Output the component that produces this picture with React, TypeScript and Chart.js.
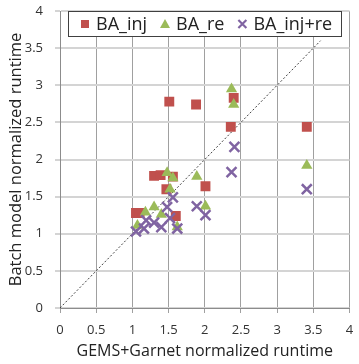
import React, { useEffect, useRef } from "react";
import { Chart, registerables } from "chart.js";

Chart.register(...registerables);

// ---- data ----
const legendLabels = ["BA_inj", "BA_re", "BA_inj+re"];
const xTitle = "GEMS+Garnet normalized runtime";
const yTitle = "Batch model normalized runtime";

const injX = [1.51, 1.88, 2.40, 2.36, 3.41, 2.01, 1.30, 1.39, 1.56, 1.47, 1.05, 1.10, 1.60];
const injY = [2.78, 2.74, 2.83, 2.44, 2.44, 1.64, 1.78, 1.79, 1.77, 1.60, 1.28, 1.28, 1.24];

const reX = [2.37, 2.40, 3.41, 1.89, 1.48, 1.56, 1.52, 2.01, 1.30, 1.18, 1.40, 1.07, 1.62];
const reY = [2.95, 2.74, 1.92, 1.77, 1.82, 1.75, 1.60, 1.37, 1.36, 1.29, 1.26, 1.11, 1.09];

const bothX = [2.41, 2.37, 3.41, 1.89, 2.01, 1.56, 1.48, 1.52, 1.62, 1.40, 1.30, 1.19, 1.16, 1.05];
const bothY = [2.17, 1.83, 1.60, 1.37, 1.25, 1.49, 1.36, 1.21, 1.07, 1.09, 1.15, 1.18, 1.07, 1.03];

const axisMin = 0;
const axisMax = 4;
const tickStep = 0.5;
const diagonal = [0, 3.6];

const RED = "#C0504D";
const GREEN = "#9BBB59";
const PURPLE = "#8064A2";
const FONT = "'Open Sans', 'DejaVu Sans', sans-serif";

const pts = (xs: number[], ys: number[]) => xs.map((x, i) => ({ x, y: ys[i] }));
const fmt = (v: any) => String(Number(v));

const legendPlugin = {
  id: "boxLegend",
  afterDraw(chart: any) {
    const ctx = chart.ctx as CanvasRenderingContext2D;
    const left = 68, top = 11, right = 342, bottom = 37;
    ctx.save();
    ctx.fillStyle = "#ffffff";
    ctx.fillRect(left, top, right - left, bottom - top);
    ctx.strokeStyle = "#404040";
    ctx.lineWidth = 1;
    ctx.strokeRect(left + 0.5, top + 0.5, right - left - 1, bottom - top - 1);
    ctx.font = `18px ${FONT}`;
    ctx.textBaseline = "middle";
    const cy = 24;
    let x = 85;
    legendLabels.forEach((label, i) => {
      if (i === 0) {
        ctx.fillStyle = RED;
        ctx.fillRect(x - 4, cy - 4, 8, 8);
      } else if (i === 1) {
        ctx.fillStyle = GREEN;
        ctx.beginPath();
        ctx.moveTo(x, cy - 5);
        ctx.lineTo(x + 5, cy + 4);
        ctx.lineTo(x - 5, cy + 4);
        ctx.closePath();
        ctx.fill();
      } else {
        ctx.strokeStyle = PURPLE;
        ctx.lineWidth = 2.2;
        ctx.beginPath();
        ctx.moveTo(x - 4, cy - 4);
        ctx.lineTo(x + 4, cy + 4);
        ctx.moveTo(x + 4, cy - 4);
        ctx.lineTo(x - 4, cy + 4);
        ctx.stroke();
      }
      ctx.fillStyle = "#222222";
      const tx = x + 11;
      ctx.fillText(label, tx, cy + 1);
      x = tx + ctx.measureText(label).width + 18;
    });
    ctx.restore();
  },
};

export default function App() {
  const ref = useRef<HTMLCanvasElement>(null);
  useEffect(() => {
    document.body.style.margin = "0";
    const chart = new Chart(ref.current!, {
      type: "scatter",
      data: {
        datasets: [
          {
            label: legendLabels[0],
            data: pts(injX, injY),
            pointStyle: "rect",
            pointRadius: 7,
            backgroundColor: RED,
            borderColor: RED,
            borderWidth: 0,
            order: 3,
          },
          {
            label: legendLabels[1],
            data: pts(reX, reY),
            pointStyle: "triangle",
            pointRadius: 6.5,
            backgroundColor: GREEN,
            borderColor: GREEN,
            borderWidth: 0,
            order: 2,
          },
          {
            label: legendLabels[2],
            data: pts(bothX, bothY),
            pointStyle: "crossRot",
            pointRadius: 7,
            backgroundColor: PURPLE,
            borderColor: PURPLE,
            borderWidth: 2.5,
            order: 1,
          },
          {
            type: "line",
            label: "diag",
            data: diagonal.map((v) => ({ x: v, y: v })),
            borderColor: "#404040",
            borderWidth: 1,
            borderDash: [2, 2],
            pointRadius: 0,
            showLine: true,
            order: 4,
          } as any,
        ],
      },
      options: {
        responsive: false,
        animation: false,
        layout: { padding: { left: 0, top: 11, right: 3, bottom: 0 } },
        plugins: { legend: { display: false }, tooltip: { enabled: false } },
        scales: {
          x: {
            type: "linear",
            min: axisMin,
            max: axisMax,
            ticks: { stepSize: tickStep, color: "#333", font: { family: FONT, size: 13 }, padding: 9, callback: fmt },
            grid: { color: "#a0a0a0", lineWidth: 1, tickLength: 5 },
            border: { color: "#8c8c8c", width: 1 },
            title: { display: true, text: xTitle, color: "#222", font: { family: FONT, size: 16 }, padding: { top: 0, bottom: 3 } },
            afterFit: (s: any) => {
              s.height = 56;
              s.paddingLeft = 0;
              s.paddingRight = 0;
            },
          },
          y: {
            type: "linear",
            min: axisMin,
            max: axisMax,
            ticks: { stepSize: tickStep, color: "#333", font: { family: FONT, size: 13 }, padding: 12, callback: fmt },
            grid: { color: "#d4d4d4", lineWidth: 2, tickLength: 5 },
            border: { color: "#8c8c8c", width: 1 },
            title: { display: true, text: yTitle, color: "#222", font: { family: FONT, size: 16.5 }, padding: { top: 6, bottom: 0 } },
            afterFit: (s: any) => {
              s.width = 60;
              s.paddingTop = 0;
              s.paddingBottom = 0;
            },
          },
        },
      },
      plugins: [legendPlugin],
    });
    return () => chart.destroy();
  }, []);
  return (
    <div style={{ position: "absolute", left: 0, top: 0, width: 359, height: 364, background: "#fff" }}>
      <canvas ref={ref} width={359} height={364} />
    </div>
  );
}
